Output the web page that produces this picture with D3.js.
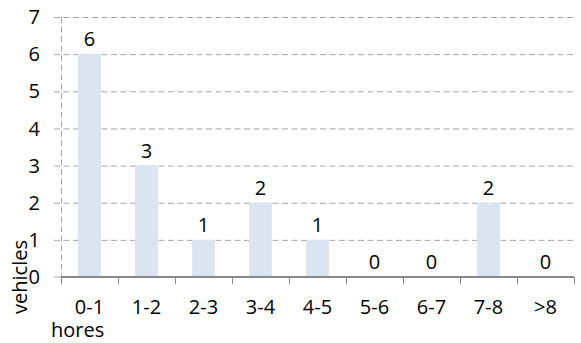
<!DOCTYPE html>
<html><head><meta charset="utf-8">
<script src="https://cdn.jsdelivr.net/npm/d3@7"></script>
<style>body{margin:0;background:#fff}svg{display:block}text{font-family:"Open Sans",sans-serif;fill:#000}</style>
</head><body><svg id="c" width="581" height="343"></svg>
<script>
const categories = ["0-1","1-2","2-3","3-4","4-5","5-6","6-7","7-8",">8"];
const values = [6,3,1,2,1,0,0,2,0];
const yTicks = [0,1,2,3,4,5,6,7];
const yLabel = "vehicles";
const xLabel = "hores";

const svg = d3.select("#c");
const L = 61, R = 574, T = 17, B = 277;
const FS = "20px";
const x = d3.scaleBand().domain(categories).range([L, R]).paddingInner(0.6).paddingOuter(0.3);
const xb = d3.scaleBand().domain(categories).range([L, R]);
const y = d3.scaleLinear().domain([0, 7]).range([B, T]);

// gridlines
svg.append("g").selectAll("line").data(yTicks.filter(d => d > 0)).join("line")
  .attr("x1", L - 7).attr("x2", R).attr("y1", d => y(d) + 0.5).attr("y2", d => y(d) + 0.5)
  .attr("stroke", "#a6a6a6").attr("stroke-width", 1).attr("stroke-dasharray", "6,3.5");
// left dashed axis
svg.append("line").attr("x1", L + 0.5).attr("x2", L + 0.5).attr("y1", T).attr("y2", B)
  .attr("stroke", "#a6a6a6").attr("stroke-dasharray", "6,3.5");
// zero tick left
svg.append("line").attr("x1", L - 7).attr("x2", L).attr("y1", B).attr("y2", B).attr("stroke", "#a6a6a6");

// bars
svg.append("g").selectAll("rect").data(values).join("rect")
  .attr("x", (d, i) => x(categories[i])).attr("width", x.bandwidth())
  .attr("y", d => y(d)).attr("height", d => y(0) - y(d)).attr("fill", "#dbe4f1");

// x axis line and ticks
svg.append("line").attr("x1", L).attr("x2", R).attr("y1", B).attr("y2", B)
  .attr("stroke", "#898989").attr("stroke-width", 2);
const bounds = categories.map(c => xb(c)).concat([R]);
svg.append("g").selectAll("line").data(bounds).join("line")
  .attr("x1", d => Math.round(d) + 0.5).attr("x2", d => Math.round(d) + 0.5).attr("y1", B).attr("y2", B + 7)
  .attr("stroke", "#898989").attr("stroke-width", 1);

// y tick labels
svg.append("g").selectAll("text").data(yTicks).join("text")
  .attr("x", 40).attr("y", d => y(d)).attr("dy", "0.36em").attr("text-anchor", "end")
  .style("font-size", FS).text(d => d);

// x labels
svg.append("g").selectAll("text").data(categories).join("text")
  .attr("x", d => xb(d) + xb.bandwidth() / 2).attr("y", 314).attr("text-anchor", "middle")
  .style("font-size", FS).text(d => d);

// value labels
svg.append("g").selectAll("text").data(values).join("text")
  .attr("x", (d, i) => xb(categories[i]) + xb.bandwidth() / 2).attr("y", d => y(d) - 8)
  .attr("text-anchor", "middle").style("font-size", FS).text(d => d);

// axis titles
svg.append("text").attr("transform", "translate(27,277) rotate(-90)").attr("text-anchor", "middle")
  .style("font-size", FS).text(yLabel);
svg.append("text").attr("x", 51).attr("y", 337).attr("text-anchor", "start")
  .style("font-size", FS).text(xLabel);
</script></body></html>
